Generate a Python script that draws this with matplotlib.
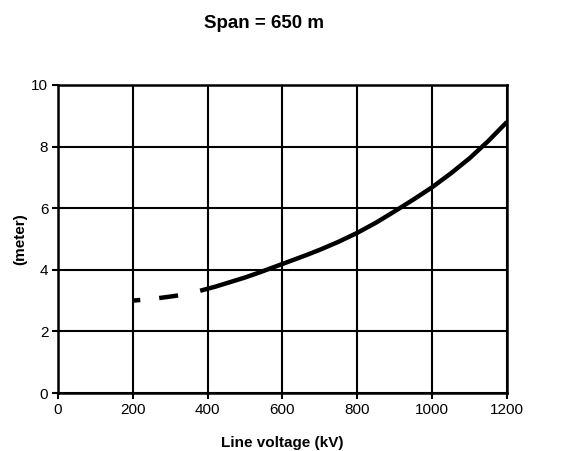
import matplotlib
matplotlib.use("Agg")
import matplotlib.pyplot as plt

# dashed (extrapolated) part of the curve
volt_dash = [200, 250, 300, 350, 390]
height_dash = [3.0, 3.05, 3.13, 3.22, 3.35]

# solid part of the curve
volt_solid = [380, 420, 460, 500, 540, 580, 620, 660, 700, 750, 800, 850, 900,
              950, 1000, 1050, 1100, 1150, 1200]
height_solid = [3.32, 3.45, 3.6, 3.75, 3.92, 4.1, 4.28, 4.46, 4.65, 4.91, 5.2, 5.53, 5.9,
                6.28, 6.68, 7.13, 7.62, 8.18, 8.8]

x_ticks = [0, 200, 400, 600, 800, 1000, 1200]
y_ticks = [0, 2, 4, 6, 8, 10]

plt.rcParams['font.family'] = ['Liberation Sans', 'DejaVu Sans']
plt.rcParams['lines.scale_dashes'] = False

fig = plt.figure(figsize=(5.88, 4.51), dpi=100)
ax = fig.add_axes([0.0986, 0.1286, 0.7636, 0.683])

ax.plot(volt_solid, height_solid, color='black', linewidth=3.2, solid_capstyle='butt', zorder=3)
ax.plot(volt_dash[:-1], height_dash[:-1], color='black', linewidth=3.2,
        dashes=(5.4, 13.7, 13.7, 40), dash_capstyle='butt', zorder=3)

ax.set_xlim(0, 1200)
ax.set_ylim(0, 10)
ax.set_xticks(x_ticks)
ax.set_yticks(y_ticks)
ax.grid(True, color='black', linewidth=1.5)
ax.set_axisbelow(True)
for s in ax.spines.values():
    s.set_linewidth(1.8)
ax.tick_params(direction='out', length=4, width=1.5, labelsize=11, pad=3)

ax.set_xlabel('Line voltage (kV)', fontsize=11, fontweight='bold')
ax.xaxis.set_label_coords(0.5, -0.14)
ax.set_ylabel('(meter)', fontsize=11, fontweight='bold')
ax.yaxis.set_label_coords(-0.069, 0.5)
fig.text(264 / 588, 1 - 23 / 451, 'Span = 650 m', ha='center', va='center', fontsize=13.5, fontweight='bold')

fig.savefig('out.png', dpi=100)
